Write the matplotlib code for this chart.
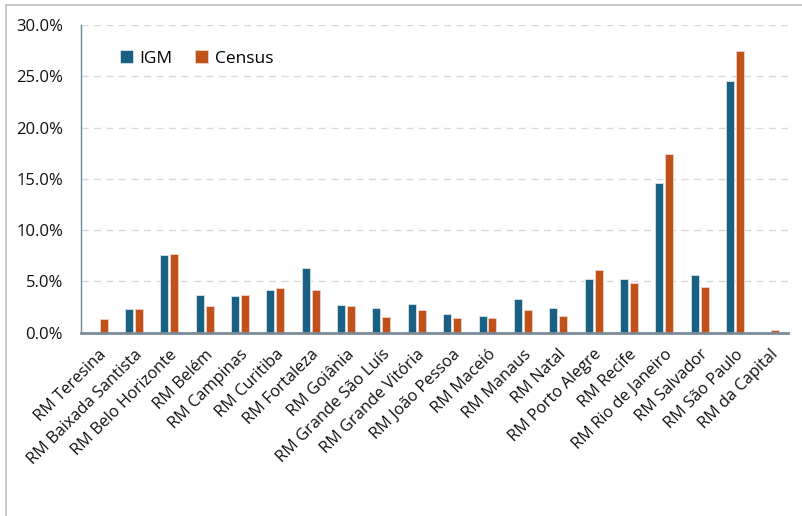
import matplotlib
matplotlib.use("Agg")
import matplotlib.pyplot as plt
import numpy as np
from matplotlib.lines import Line2D
from matplotlib.ticker import FuncFormatter, MultipleLocator

categories = ["RM Teresina", "RM Baixada Santista", "RM Belo Horizonte", "RM Belém",
              "RM Campinas", "RM Curitiba", "RM Fortaleza", "RM Goiânia",
              "RM Grande São Luís", "RM Grande Vitória", "RM João Pessoa", "RM Maceió",
              "RM Manaus", "RM Natal", "RM Porto Alegre", "RM Recife",
              "RM Rio de Janeiro", "RM Salvador", "RM São Paulo", "RM da Capital"]
igm = [0.0, 2.3, 7.6, 3.7, 3.6, 4.2, 6.3, 2.7, 2.4, 2.8, 1.8, 1.6,
       3.3, 2.4, 5.2, 5.2, 14.6, 5.6, 24.5, 0.0]
census = [1.3, 2.3, 7.7, 2.6, 3.7, 4.4, 4.2, 2.6, 1.5, 2.2, 1.4, 1.4,
          2.2, 1.6, 6.1, 4.8, 17.4, 4.5, 27.5, 0.3]

plt.rcParams['font.family'] = ['Open Sans', 'DejaVu Sans']

fig = plt.figure(figsize=(8.02, 5.16), dpi=100)
ax = fig.add_axes([0.101, 0.3553, 0.8815, 0.5963])

x = np.arange(len(categories))
w = 0.226
off = 0.141
c_igm = "#1a6082"
c_cen = "#c0511a"
ax.bar(x - off, igm, width=w, color=c_igm, edgecolor="#d8e2e8", linewidth=0.6, label="IGM", zorder=3)
ax.bar(x + off, census, width=w, color=c_cen, edgecolor="#f0d3c3", linewidth=0.6, label="Census", zorder=3)

ax.set_xlim(-0.5, len(categories) - 0.5)
ax.set_ylim(0, 30)
ax.yaxis.set_major_locator(MultipleLocator(5))
ax.yaxis.set_major_formatter(FuncFormatter(lambda v, p: f"{v:.1f}%"))
for yv in [5, 10, 15, 20, 25, 30]:
    ax.axhline(yv, color="#d9d9d9", linestyle=(0, (5, 4)), linewidth=1.0, zorder=1)

for s in ["top", "right"]:
    ax.spines[s].set_visible(False)
ax.spines["left"].set_color("#6e8796")
ax.spines["left"].set_linewidth(1.0)
ax.spines["bottom"].set_color("#7b8b98")
ax.spines["bottom"].set_linewidth(2.0)
ax.spines["bottom"].set_zorder(4)

ax.tick_params(axis="y", length=0, pad=13, labelsize=12, labelcolor="#111111")
ax.tick_params(axis="x", length=0, pad=10)
ax.set_xticks(x)
ax.set_xticklabels(categories, rotation=45, ha="right", va="top",
                   rotation_mode="anchor", fontsize=11.8, color="#111111")

leg = ax.legend(loc="upper left", bbox_to_anchor=(0.045, 0.94), ncol=2, frameon=False,
                fontsize=12.5, handlelength=0.75, handleheight=0.75, handletextpad=0.4,
                columnspacing=1.3, borderaxespad=0)

# outer border
fig.add_artist(Line2D([6/802, 1.0], [1 - 5/516, 1 - 5/516], transform=fig.transFigure,
                      color="#bfbfbf", linewidth=1.2))
fig.add_artist(Line2D([6/802, 6/802], [0.0, 1 - 5/516], transform=fig.transFigure,
                      color="#bfbfbf", linewidth=1.2))

fig.savefig("out.png", dpi=100)
